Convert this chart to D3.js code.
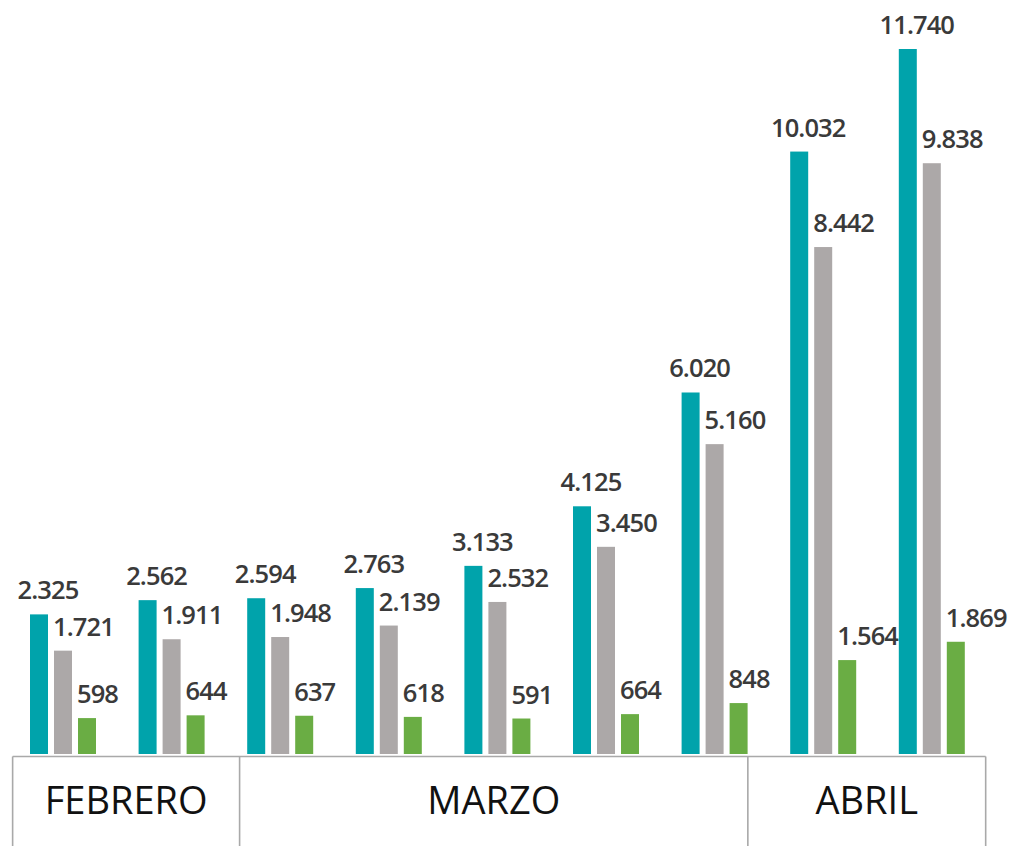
<!DOCTYPE html>
<html>
<head>
<meta charset="utf-8">
<script src="https://cdn.jsdelivr.net/npm/d3@7"></script>
<style>
  html, body { margin: 0; padding: 0; background: #fff; }
  svg { display: block; }
</style>
</head>
<body>
<svg id="chart" width="1012" height="846"></svg>
<script>
// ---- data ----
const groups = ["1", "2", "3", "4", "5", "6", "7", "8", "9"];
const seriesNames = ["teal", "gray", "green"];
const tealValues  = [2325, 2562, 2594, 2763, 3133, 4125, 6020, 10032, 11740];
const grayValues  = [1721, 1911, 1948, 2139, 2532, 3450, 5160, 8442, 9838];
const greenValues = [598, 644, 637, 618, 591, 664, 848, 1564, 1869];
const months = ["FEBRERO", "MARZO", "ABRIL"];
// month cell edges in group-index units
const monthEdges = [-0.16, 1.93, 6.61, 8.8];

// ---- layout ----
const W = 1012, H = 846;
const baseY = 754;
const colors = { teal: "#00a3ab", gray: "#aca8a8", green: "#6aad44" };
const svg = d3.select("#chart");

const step = 108.6, groupW = 66, x0 = 30;
const x = d3.scaleBand().domain(groups)
  .range([x0, x0 + step * (groups.length - 1) + groupW])
  .paddingInner((step - groupW) / step).paddingOuter(0);
const xs = d3.scaleBand().domain(seriesNames).range([0, x.bandwidth()])
  .paddingInner(0.25).paddingOuter(0);
const y = d3.scaleLinear().domain([0, 11740]).range([baseY, 49]);
const idx = d3.scaleLinear().domain([0, groups.length - 1])
  .range([x(groups[0]), x(groups[groups.length - 1])]);

const rows = groups.map((g, i) => ({
  g, vals: [
    { s: "teal", v: tealValues[i] },
    { s: "gray", v: grayValues[i] },
    { s: "green", v: greenValues[i] }
  ]
}));

const fmt = v => d3.format(",")(v).replace(/,/g, ".");

const gg = svg.selectAll("g.grp").data(rows).join("g")
  .attr("class", "grp")
  .attr("transform", d => `translate(${x(d.g)},0)`);

gg.selectAll("rect").data(d => d.vals).join("rect")
  .attr("x", d => xs(d.s))
  .attr("width", xs.bandwidth())
  .attr("y", d => y(d.v))
  .attr("height", d => baseY - y(d.v))
  .attr("fill", d => colors[d.s]);

gg.selectAll("text").data(d => d.vals).join("text")
  .attr("x", d => d.s === "teal" ? xs(d.s) + xs.bandwidth() / 2 + 9 : xs(d.s) - 1)
  .attr("y", d => y(d.v) - 15)
  .attr("text-anchor", d => d.s === "teal" ? "middle" : "start")
  .attr("font-family", "'Open Sans', sans-serif")
  .attr("font-weight", 600)
  .attr("font-size", 25.5)
  .attr("letter-spacing", "-0.9px")
  .attr("fill", "#3a3a3a")
  .text(d => fmt(d.v));

// ---- month table ----
const tableTop = 756.5;
const edgesX = monthEdges.map(e => idx(e));
const tbl = svg.append("g").attr("stroke", "#a9a9a9").attr("stroke-width", 1.6).attr("fill", "none");
tbl.append("line").attr("x1", edgesX[0]).attr("x2", edgesX[edgesX.length - 1])
  .attr("y1", tableTop).attr("y2", tableTop);
edgesX.forEach(ex => {
  tbl.append("line").attr("x1", ex).attr("x2", ex).attr("y1", tableTop).attr("y2", H);
});

svg.selectAll("text.month").data(months).join("text")
  .attr("class", "month")
  .attr("x", (d, i) => (edgesX[i] + edgesX[i + 1]) / 2)
  .attr("y", 814)
  .attr("text-anchor", "middle")
  .attr("font-family", "'Open Sans', sans-serif")
  .attr("font-weight", 400)
  .attr("font-size", 38)
  .attr("fill", "#111")
  .text(d => d);
</script>
</body>
</html>
